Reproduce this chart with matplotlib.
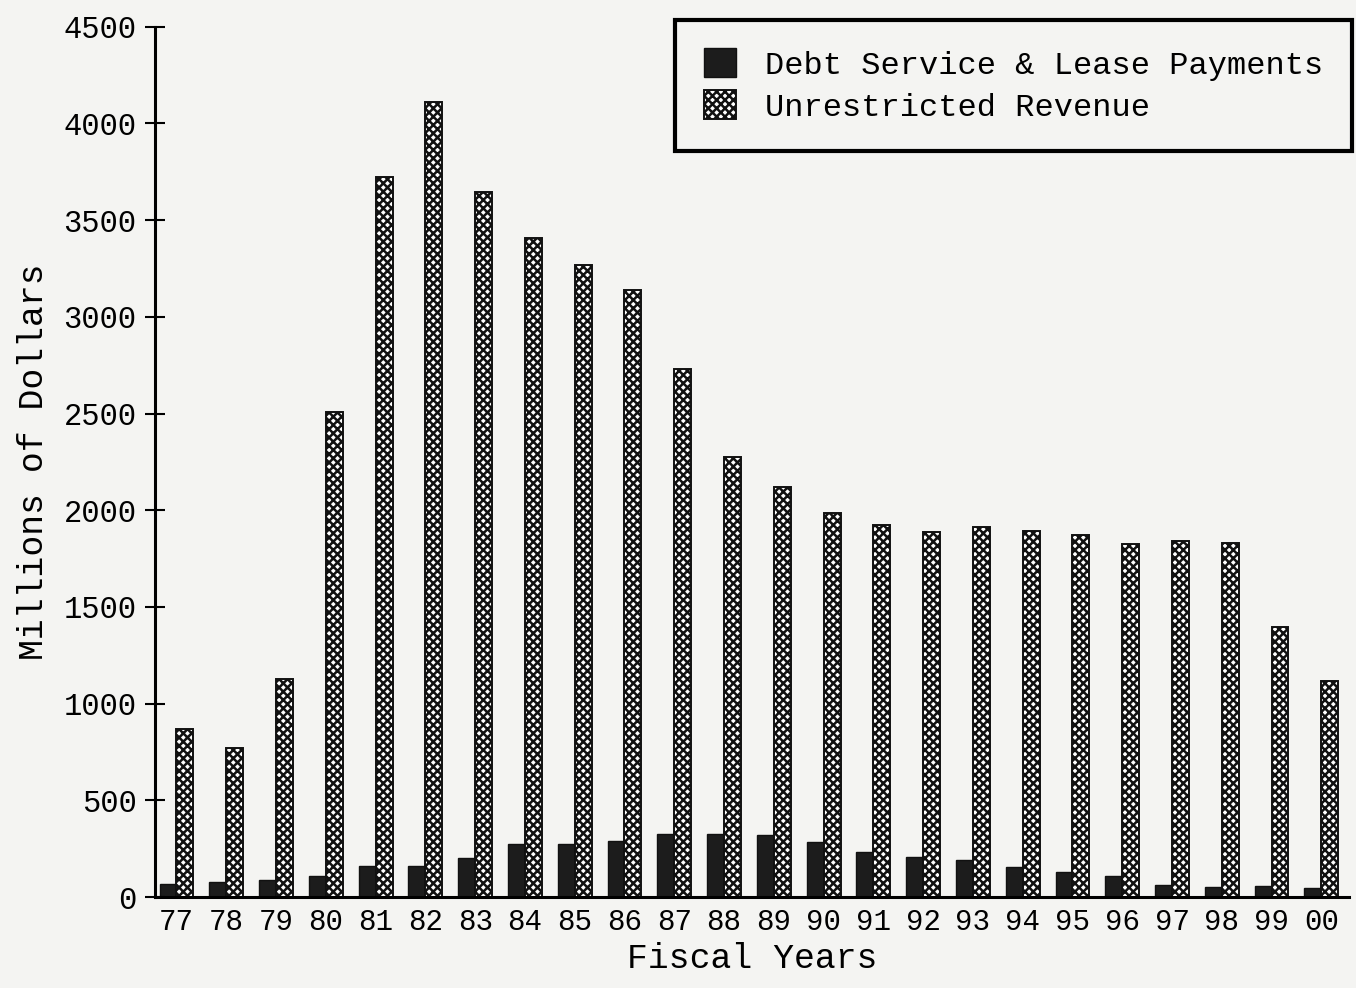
import numpy as np
import matplotlib.pyplot as plt

# fiscal years and values (millions of dollars)
years = ['77', '78', '79', '80', '81', '82', '83', '84', '85', '86', '87', '88',
         '89', '90', '91', '92', '93', '94', '95', '96', '97', '98', '99', '00']
debt = [67, 76, 90, 110, 160, 160, 200, 275, 275, 290, 325, 325,
        320, 285, 235, 205, 190, 155, 130, 110, 65, 50, 55, 45]
revenue = [870, 770, 1130, 2510, 3725, 4110, 3645, 3405, 3270, 3140, 2730, 2275,
           2120, 1985, 1925, 1885, 1915, 1895, 1870, 1825, 1840, 1830, 1395, 1115]

plt.rcParams['font.family'] = ['Liberation Mono', 'DejaVu Sans Mono']
plt.rcParams['hatch.linewidth'] = 1.8
bg = '#f4f4f2'

fig = plt.figure(figsize=(13.56, 9.88), dpi=100, facecolor=bg)
ax = fig.add_axes([0.114, 0.092, 0.881, 0.881], facecolor=bg)

x = np.arange(len(years))
w = 0.34
ax.bar(x - w / 2, debt, w, color='#1c1c1c', edgecolor='#111111', linewidth=1,
       label='Debt Service & Lease Payments')
ax.bar(x + w / 2, revenue, w, color='white', edgecolor='#111111', hatch='xxxx',
       linewidth=1.4, label='Unrestricted Revenue')

ax.set_xlim(-0.44, 23.56)
ax.set_ylim(0, 4500)
ax.set_yticks(np.arange(0, 4501, 500))
ax.set_xticks(x)
ax.set_xticklabels(years)

for s in ['top', 'right']:
    ax.spines[s].set_visible(False)
ax.spines['left'].set_linewidth(2.2)
ax.spines['bottom'].set_linewidth(2.2)

ax.tick_params(axis='y', direction='inout', length=14, width=1.5, labelsize=22, pad=6)
ax.tick_params(axis='x', length=0, labelsize=21, pad=8)

ax.set_ylabel('Millions of Dollars', fontsize=25, labelpad=10)
ax.set_xlabel('Fiscal Years', fontsize=25, labelpad=4)

leg = ax.legend(loc='upper right', bbox_to_anchor=(1.002, 1.008), borderaxespad=0,
                fontsize=23, frameon=True, fancybox=False, borderpad=0.9,
                handlelength=1.0, handleheight=1.0, handletextpad=0.9, labelspacing=0.3)
leg.get_frame().set_edgecolor('black')
leg.get_frame().set_linewidth(3)
leg.get_frame().set_facecolor(bg)
leg.get_frame().set_alpha(1)

fig.savefig('out.png', dpi=100, facecolor=bg)
